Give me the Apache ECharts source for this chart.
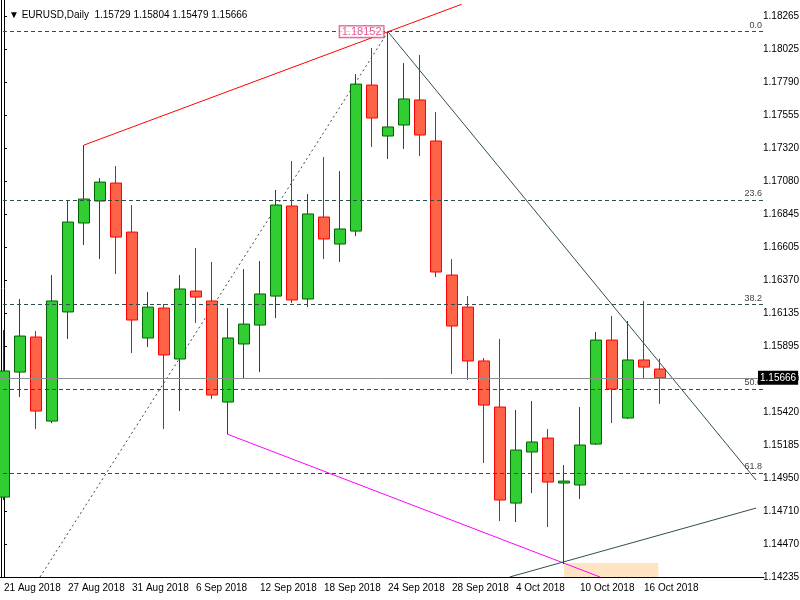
<!DOCTYPE html>
<html>
<head>
<meta charset="utf-8">
<script src="https://cdn.jsdelivr.net/npm/echarts@6/dist/echarts.min.js"></script>
<style>html,body{margin:0;padding:0;background:#fff}#main{width:800px;height:600px}</style>
</head>
<body>
<div id="main"></div>
<script>
// trading days, plus a few empty future slots on the right
var dates = ['21 Aug 2018','22 Aug 2018','23 Aug 2018','24 Aug 2018','27 Aug 2018','28 Aug 2018','29 Aug 2018','30 Aug 2018',
  '31 Aug 2018','3 Sep 2018','4 Sep 2018','5 Sep 2018','6 Sep 2018','7 Sep 2018','10 Sep 2018','11 Sep 2018',
  '12 Sep 2018','13 Sep 2018','14 Sep 2018','17 Sep 2018','18 Sep 2018','19 Sep 2018','20 Sep 2018','21 Sep 2018',
  '24 Sep 2018','25 Sep 2018','26 Sep 2018','27 Sep 2018','28 Sep 2018','1 Oct 2018','2 Oct 2018','3 Oct 2018',
  '4 Oct 2018','5 Oct 2018','8 Oct 2018','9 Oct 2018','10 Oct 2018','11 Oct 2018','12 Oct 2018','15 Oct 2018',
  '16 Oct 2018','17 Oct 2018','','','','','',''];

var opens  = [1.14809,1.15707,1.15959,1.15355,1.16139,1.16778,1.16936,1.17065,1.16713,1.15952,1.16167,1.15801,1.16289,1.16218,1.15492,1.15909,
  1.16045,1.16253,1.16900,1.16232,1.16821,1.16627,1.16720,1.17769,1.17403,1.17482,1.17662,1.17367,1.16404,1.16174,1.15787,1.15456,
  1.14766,1.15133,1.15233,1.14910,1.14896,1.15190,1.15937,1.15377,1.15794,1.15729];
var closes = [1.15715,1.15966,1.15427,1.16218,1.16785,1.16950,1.17072,1.16677,1.16081,1.16174,1.15830,1.16304,1.16246,1.15542,1.15952,1.16052,
  1.16268,1.16907,1.16225,1.16843,1.16663,1.16735,1.17776,1.17532,1.17468,1.17669,1.17410,1.16426,1.16038,1.15787,1.15470,1.14788,
  1.15147,1.15205,1.14917,1.14924,1.15183,1.15937,1.15585,1.15794,1.15743,1.15666];
var highs  = [1.16009,1.16232,1.16002,1.16404,1.16943,1.17338,1.17101,1.17187,1.16907,1.16282,1.16196,1.16404,1.16598,1.16498,1.16167,1.16447,
  1.16505,1.17015,1.17223,1.16986,1.17252,1.17151,1.17848,1.18035,1.18152,1.17927,1.17985,1.17575,1.16519,1.16253,1.15808,1.15945,
  1.15435,1.15499,1.15298,1.15039,1.15456,1.15995,1.16110,1.16074,1.16218,1.15804];
var lows   = [1.14788,1.15528,1.15298,1.15340,1.15945,1.16620,1.16519,1.16412,1.15844,1.15887,1.15298,1.15427,1.16060,1.15514,1.15262,1.15657,
  1.15707,1.16095,1.16203,1.16174,1.16519,1.16498,1.16685,1.17324,1.17238,1.17310,1.17259,1.16390,1.15693,1.15650,1.15054,1.14637,
  1.14630,1.14838,1.14594,1.14328,1.14795,1.15183,1.15341,1.15370,1.15664,1.15479];

var priceLabels = ['1.14235','1.14470','1.14710','1.14950','1.15185','1.15420','1.15660','1.15895','1.16135','1.16370',
  '1.16605','1.16845','1.17080','1.17320','1.17555','1.17790','1.18025','1.18265'];

// fibo retracement levels
var fiboNames  = ['0.0','23.6','38.2','50.0','61.8'];
var fiboPrices = [1.18152,1.16940,1.16191,1.15585,1.14979];

// drawn objects: [index, price] pairs
var redLine     = [[5,1.17338],[28.6,1.18349]];
var fiboBase    = [[2.25,1.14235],[24,1.18152]];
var downLine    = [[24,1.18152],[47,1.14932]];
var magentaLine = [[13.94,1.15262],[37.25,1.14235]];
var upLine      = [[31.6,1.14235],[47,1.14730]];
var peakPrice   = [[24,1.18152]];
var lastPrice   = 1.15666;

var yMin = 1.14235, yStep = 0.0023706, yMax = 1.18380;

var candles = opens.map(function (o, i) { return [o, closes[i], lows[i], highs[i]]; });

var myChart = echarts.init(document.getElementById('main'));

function seg(pts, color, type, width) {
    return {
        type: 'line', xAxisIndex: 1, data: pts, symbol: 'none', silent: true,
        lineStyle: { color: color, type: type, width: width || 1 }, z: 3
    };
}

var option = {
    animation: false,
    title: {
        text: '▼ EURUSD,Daily  1.15729 1.15804 1.15479 1.15666',
        left: 4, top: 5,
        textStyle: { fontSize: 10, fontWeight: 'normal', color: '#000', fontFamily: 'Liberation Sans' }
    },
    grid: { left: -4, right: 36, top: 0, bottom: 23, outerBoundsMode: 'none', containLabel: false },
    xAxis: [{
        type: 'category', data: dates, boundaryGap: true,
        axisLine: { lineStyle: { color: '#000' } },
        axisTick: { interval: 3, alignWithLabel: true, length: 3, lineStyle: { color: '#000' } },
        axisLabel: { interval: 3, showMinLabel: true, align: 'left', margin: 6, fontSize: 10, color: '#000', fontFamily: 'Liberation Sans' },
        splitLine: { show: false }
    }, {
        type: 'value', min: -0.5, max: 47.5, show: false
    }],
    yAxis: [{
        type: 'value', position: 'right', offset: -7, min: yMin, max: yMax, interval: yStep,
        axisLine: { show: true, lineStyle: { color: '#000' } },
        axisTick: { show: true, length: 3, lineStyle: { color: '#000' } },
        axisLabel: {
            showMaxLabel: false, fontSize: 10, color: '#000', margin: 6, fontFamily: 'Liberation Sans',
            formatter: function (v) { return priceLabels[Math.round((v - yMin) / yStep)] || ''; }
        },
        splitLine: { show: false }
    }, {
        type: 'value', position: 'left', offset: -5, min: yMin, max: yMax, interval: yStep,
        axisLine: { show: true, lineStyle: { color: '#000' } },
        axisTick: { show: false }, axisLabel: { show: false }, splitLine: { show: false }
    }],
    series: [{
        type: 'candlestick', data: candles, barWidth: 11, z: 4,
        itemStyle: { color: '#32cd32', color0: '#ff6347', borderColor: '#006400', borderColor0: '#ff0000', borderWidth: 1 }
    }, {
        type: 'line', xAxisIndex: 1, data: [], silent: true, z: 2,
        markLine: {
            symbol: 'none', silent: true, precision: 5,
            data: fiboPrices.map(function (p, i) {
                return { yAxis: p, label: { formatter: fiboNames[i] } };
            }).concat([{
                yAxis: lastPrice,
                lineStyle: { type: 'solid', color: '#8c8c8c' },
                label: { position: 'end', formatter: '1.15666', backgroundColor: '#000', color: '#fff',
                         padding: [2, 2], fontSize: 10, distance: -6, fontFamily: 'Liberation Sans' }
            }]),
            lineStyle: { color: '#2f4f4f', type: [4, 3], width: 1 },
            label: { position: 'insideEndTop', fontSize: 9, color: '#444', distance: 2 }
        }
    },
    seg(redLine, '#ff0000', 'solid'),
    seg(fiboBase, '#2f4f4f', [2, 3]),
    seg(downLine, '#2f4f4f', 'solid'),
    seg(magentaLine, '#ff00ff', 'solid'),
    seg(upLine, '#2f4f4f', 'solid'),
    {
        type: 'line', xAxisIndex: 1, data: [], silent: true, z: 1,
        markArea: {
            itemStyle: { color: '#ffe4c4' },
            data: [[{ coord: [35, 1.14335] }, { coord: [40.9, yMin] }]]
        }
    }, {
        type: 'scatter', xAxisIndex: 1, data: peakPrice, symbolSize: 1, z: 6,
        itemStyle: { color: 'transparent' },
        label: {
            show: true, position: 'left', distance: 4, formatter: '1.18152',
            color: '#e0307a', fontSize: 11, backgroundColor: '#fff',
            borderColor: '#d0205a', borderWidth: 1, padding: [0, 2]
        }
    }]
};

myChart.setOption(option);
</script>
</body>
</html>
